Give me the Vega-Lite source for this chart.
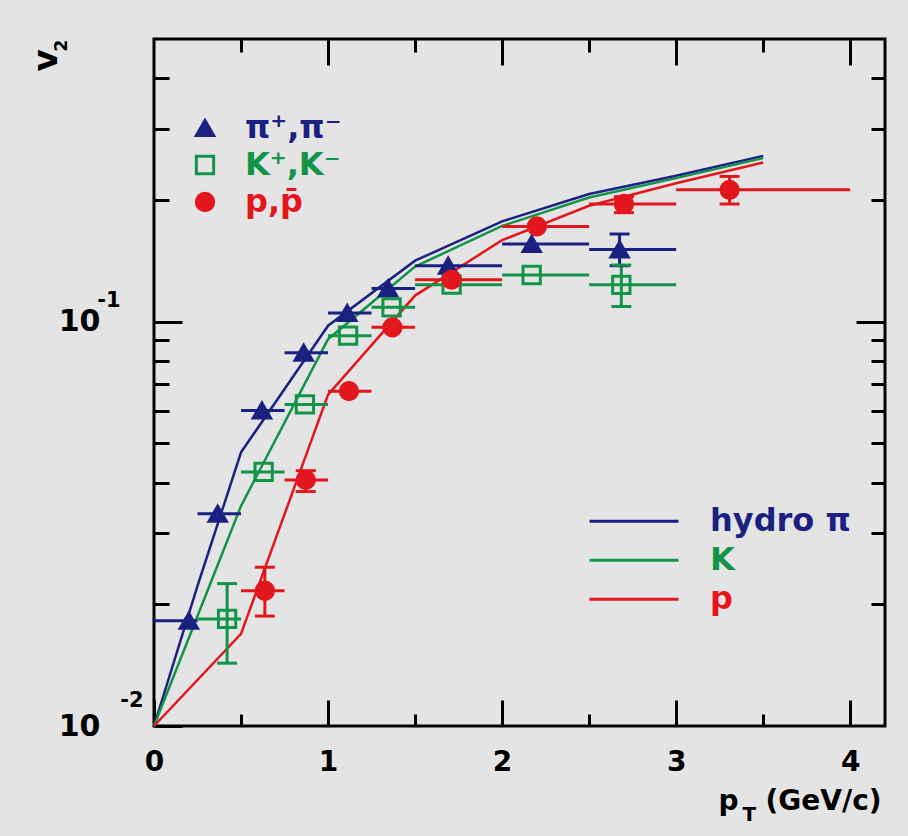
{
  "$schema": "https://vega.github.io/schema/vega-lite/v6.json",
  "width": 731,
  "height": 687,
  "autosize": {"type": "none"},
  "padding": {"left": 154, "top": 39, "right": 23, "bottom": 110},
  "background": "#e4e4e4",
  "datasets": {
    "points": [
      {"species": "π⁺,π⁻", "pt": 0.2, "v2": 0.0182, "xlo": 0, "xhi": 0.25},
      {"species": "π⁺,π⁻", "pt": 0.366, "v2": 0.0335, "xlo": 0.25, "xhi": 0.5},
      {"species": "π⁺,π⁻", "pt": 0.62, "v2": 0.0603, "xlo": 0.5, "xhi": 0.75},
      {"species": "π⁺,π⁻", "pt": 0.86, "v2": 0.0838, "xlo": 0.75, "xhi": 1.0},
      {"species": "π⁺,π⁻", "pt": 1.11, "v2": 0.105, "xlo": 1.0, "xhi": 1.25},
      {"species": "π⁺,π⁻", "pt": 1.345, "v2": 0.1207, "xlo": 1.25, "xhi": 1.5},
      {"species": "π⁺,π⁻", "pt": 1.69, "v2": 0.1375, "xlo": 1.5, "xhi": 2.0},
      {"species": "π⁺,π⁻", "pt": 2.17, "v2": 0.1556, "xlo": 2.0, "xhi": 2.5},
      {"species": "π⁺,π⁻", "pt": 2.675, "v2": 0.1507, "xlo": 2.5, "xhi": 3.0, "lo": 0.1375, "hi": 0.1647},
      {"species": "K⁺,K⁻", "pt": 0.42, "v2": 0.0184, "xlo": 0.25, "xhi": 0.5, "lo": 0.0143, "hi": 0.0225},
      {"species": "K⁺,K⁻", "pt": 0.63, "v2": 0.0425, "xlo": 0.5, "xhi": 0.75},
      {"species": "K⁺,K⁻", "pt": 0.867, "v2": 0.0624, "xlo": 0.75, "xhi": 1.0},
      {"species": "K⁺,K⁻", "pt": 1.115, "v2": 0.0923, "xlo": 1.0, "xhi": 1.25},
      {"species": "K⁺,K⁻", "pt": 1.365, "v2": 0.1085, "xlo": 1.25, "xhi": 1.5},
      {"species": "K⁺,K⁻", "pt": 1.71, "v2": 0.1234, "xlo": 1.5, "xhi": 2.0},
      {"species": "K⁺,K⁻", "pt": 2.17, "v2": 0.1304, "xlo": 2.0, "xhi": 2.5},
      {"species": "K⁺,K⁻", "pt": 2.685, "v2": 0.1233, "xlo": 2.5, "xhi": 3.0, "lo": 0.109, "hi": 0.138},
      {"species": "p,p̄", "pt": 0.637, "v2": 0.0216, "xlo": 0.5, "xhi": 0.75, "lo": 0.0187, "hi": 0.0247},
      {"species": "p,p̄", "pt": 0.872, "v2": 0.0406, "xlo": 0.75, "xhi": 1.0, "lo": 0.038, "hi": 0.0428},
      {"species": "p,p̄", "pt": 1.12, "v2": 0.0673, "xlo": 1.0, "xhi": 1.25},
      {"species": "p,p̄", "pt": 1.37, "v2": 0.0968, "xlo": 1.25, "xhi": 1.5},
      {"species": "p,p̄", "pt": 1.71, "v2": 0.127, "xlo": 1.5, "xhi": 2.0},
      {"species": "p,p̄", "pt": 2.2, "v2": 0.172, "xlo": 2.0, "xhi": 2.5},
      {"species": "p,p̄", "pt": 2.7, "v2": 0.1954, "xlo": 2.5, "xhi": 3.0, "lo": 0.186, "hi": 0.2037},
      {"species": "p,p̄", "pt": 3.307, "v2": 0.2118, "xlo": 3.0, "xhi": 4.0, "lo": 0.1954, "hi": 0.2286}
    ],
    "hydro": [
      {"model": "hydro π", "pt": 0, "v2": 0.01},
      {"model": "hydro π", "pt": 0.25, "v2": 0.0222},
      {"model": "hydro π", "pt": 0.5, "v2": 0.0475},
      {"model": "hydro π", "pt": 1.0, "v2": 0.0977},
      {"model": "hydro π", "pt": 1.5, "v2": 0.1415},
      {"model": "hydro π", "pt": 2.0, "v2": 0.177},
      {"model": "hydro π", "pt": 2.5, "v2": 0.2068},
      {"model": "hydro π", "pt": 3.0, "v2": 0.2296},
      {"model": "hydro π", "pt": 3.5, "v2": 0.257},
      {"model": "K", "pt": 0, "v2": 0.01},
      {"model": "K", "pt": 0.5, "v2": 0.035},
      {"model": "K", "pt": 1.0, "v2": 0.0905},
      {"model": "K", "pt": 1.5, "v2": 0.1368},
      {"model": "K", "pt": 2.0, "v2": 0.1725},
      {"model": "K", "pt": 2.5, "v2": 0.2027},
      {"model": "K", "pt": 3.0, "v2": 0.2264},
      {"model": "K", "pt": 3.5, "v2": 0.2537},
      {"model": "p", "pt": 0, "v2": 0.01},
      {"model": "p", "pt": 0.5, "v2": 0.0169},
      {"model": "p", "pt": 1.0, "v2": 0.066},
      {"model": "p", "pt": 1.5, "v2": 0.116},
      {"model": "p", "pt": 2.0, "v2": 0.159},
      {"model": "p", "pt": 2.5, "v2": 0.1935},
      {"model": "p", "pt": 3.0, "v2": 0.2198},
      {"model": "p", "pt": 3.5, "v2": 0.2475}
    ]
  },
  "layer": [
    {
      "data": {"name": "hydro"},
      "mark": {"type": "line", "strokeWidth": 2.5},
      "encoding": {
        "x": {"field": "pt", "type": "quantitative",
          "scale": {"domain": [0, 4.2], "nice": false, "zero": false},
          "axis": {"orient": "bottom", "values": [0, 1, 2, 3, 4], "tickSize": -26, "labelPadding": 48, "labelFontSize": 28,
            "title": "p", "titleFontSize": 28, "titleX": 564, "titleY": 83, "titleAlign": "left", "titleBaseline": "alphabetic", "titleAngle": 0}},
        "y": {"field": "v2", "type": "quantitative",
          "scale": {"type": "log", "domain": [0.01, 0.5], "nice": false},
          "axis": {"orient": "left", "values": [0.01, 0.1], "tickSize": -28, "labelPadding": 82, "labelFontSize": 30, "labelExpr": "'10'",
            "title": "v", "titleFontSize": 34, "titleX": -108, "titleY": 21, "titleAngle": 270, "titleAlign": "center", "titleBaseline": "middle"}},
        "color": {"field": "model", "type": "nominal",
          "scale": {"domain": ["hydro π", "K", "p"], "range": ["#1a2180", "#119447", "#e3161d"]},
          "legend": {"orient": "none", "legendX": 434, "legendY": 463, "title": null, "symbolType": "stroke", "symbolSize": 7921,
            "symbolStrokeWidth": 3, "clipHeight": 38.7, "labelFont": "DejaVu Sans", "labelFontSize": 32, "labelFontWeight": "bold",
            "labelOffset": 30, "rowPadding": 0, "padding": 0,
            "encode": {"labels": {"update": {"fill": {"scale": "color", "field": "value"}}}}}}
      }
    },
    {
      "data": {"name": "points"},
      "mark": {"type": "rule", "strokeWidth": 3},
      "encoding": {
        "x": {"field": "xlo", "type": "quantitative",
          "scale": {"domain": [0, 4.2], "nice": false, "zero": false},
          "axis": {"orient": "bottom", "values": [0.5, 1.5, 2.5, 3.5], "tickSize": -12, "labels": false,
            "title": "(GeV/c)", "titleFontSize": 28, "titleX": 611, "titleY": 83, "titleAlign": "left", "titleBaseline": "alphabetic", "titleAngle": 0}},
        "x2": {"field": "xhi"},
        "y": {"field": "v2", "type": "quantitative",
          "scale": {"type": "log", "domain": [0.01, 0.5], "nice": false},
          "axis": {"orient": "left", "values": [0.02, 0.03, 0.04, 0.05, 0.06, 0.07, 0.08, 0.09, 0.2, 0.3, 0.4], "tickSize": -15, "labels": false,
            "title": "2", "titleFontSize": 17, "titleX": -93, "titleY": 6, "titleAngle": 270, "titleAlign": "center", "titleBaseline": "middle"}},
        "stroke": {"condition": [{"test": "datum.species == 'π⁺,π⁻'", "value": "#1a2180"}, {"test": "datum.species == 'K⁺,K⁻'", "value": "#119447"}], "value": "#e3161d"}
      }
    },
    {
      "data": {"name": "points"},
      "transform": [{"filter": "isValid(datum.lo)"}],
      "mark": {"type": "rule", "strokeWidth": 3},
      "encoding": {
        "x": {"field": "pt", "type": "quantitative",
          "scale": {"domain": [0, 4.2], "nice": false, "zero": false},
          "axis": {"orient": "top", "values": [1, 2, 3, 4], "tickSize": -26, "labels": false, "title": null}},
        "y": {"field": "lo", "type": "quantitative",
          "scale": {"type": "log", "domain": [0.01, 0.5], "nice": false},
          "axis": {"orient": "right", "values": [0.1], "tickSize": -29, "labels": false, "title": null}},
        "y2": {"field": "hi"},
        "stroke": {"condition": [{"test": "datum.species == 'π⁺,π⁻'", "value": "#1a2180"}, {"test": "datum.species == 'K⁺,K⁻'", "value": "#119447"}], "value": "#e3161d"}
      }
    },
    {
      "data": {"name": "points"},
      "transform": [{"filter": "isValid(datum.lo)"}],
      "mark": {"type": "point", "shape": "M-1,0H1", "size": 400, "strokeWidth": 3, "filled": false, "opacity": 1},
      "encoding": {
        "x": {"field": "pt", "type": "quantitative",
          "scale": {"domain": [0, 4.2], "nice": false, "zero": false},
          "axis": {"orient": "top", "values": [0.5, 1.5, 2.5, 3.5], "tickSize": -13, "labels": false, "title": null}},
        "y": {"field": "lo", "type": "quantitative",
          "scale": {"type": "log", "domain": [0.01, 0.5], "nice": false},
          "axis": {"orient": "right", "values": [0.02, 0.03, 0.04, 0.05, 0.06, 0.07, 0.08, 0.09, 0.2, 0.3, 0.4], "tickSize": -14, "labels": false, "title": null}},
        "stroke": {"condition": [{"test": "datum.species == 'π⁺,π⁻'", "value": "#1a2180"}, {"test": "datum.species == 'K⁺,K⁻'", "value": "#119447"}], "value": "#e3161d"}
      }
    },
    {
      "data": {"name": "points"},
      "transform": [{"filter": "isValid(datum.hi)"}],
      "mark": {"type": "point", "shape": "M-1,0H1", "size": 400, "strokeWidth": 3, "filled": false, "opacity": 1},
      "encoding": {
        "x": {"field": "pt", "type": "quantitative",
          "scale": {"domain": [0, 4.2], "nice": false, "zero": false},
          "axis": {"orient": "bottom", "values": [4], "ticks": false, "labels": false,
            "title": "T", "titleFontSize": 20, "titleX": 588, "titleY": 94, "titleAlign": "left", "titleBaseline": "alphabetic", "titleAngle": 0}},
        "y": {"field": "hi", "type": "quantitative",
          "scale": {"type": "log", "domain": [0.01, 0.5], "nice": false},
          "axis": {"orient": "left", "values": [0.01], "ticks": false, "labelPadding": 11, "labelFontSize": 21, "labelOffset": -26, "labelExpr": "'-2'", "title": null}},
        "stroke": {"condition": [{"test": "datum.species == 'π⁺,π⁻'", "value": "#1a2180"}, {"test": "datum.species == 'K⁺,K⁻'", "value": "#119447"}], "value": "#e3161d"}
      }
    },
    {
      "data": {"name": "points"},
      "mark": {"type": "point", "size": 300, "strokeWidth": 3, "opacity": 1},
      "encoding": {
        "x": {"field": "pt", "type": "quantitative",
          "scale": {"domain": [0, 4.2], "nice": false, "zero": false}, "axis": null},
        "y": {"field": "v2", "type": "quantitative",
          "scale": {"type": "log", "domain": [0.01, 0.5], "nice": false},
          "axis": {"orient": "left", "values": [0.1], "ticks": false, "labelPadding": 34, "labelFontSize": 21, "labelOffset": -21, "labelExpr": "'-1'", "title": null}},
        "shape": {"field": "species", "type": "nominal",
          "scale": {"domain": ["π⁺,π⁻", "K⁺,K⁻", "p,p̄"], "range": ["triangle-up", "square", "circle"]},
          "legend": {"orient": "none", "legendX": 35, "legendY": 73, "title": null, "labelFont": "DejaVu Sans", "labelFontSize": 32, "labelFontWeight": "bold",
            "labelColor": {"expr": "scale('stroke', datum.value)"},
            "symbolSize": 300, "symbolStrokeWidth": 3, "labelOffset": 24, "rowPadding": 5, "padding": 0,
            "encode": {"labels": {"update": {"fill": {"signal": "scale('stroke', datum.value)"}}}}}},
        "stroke": {"field": "species", "type": "nominal",
          "scale": {"domain": ["π⁺,π⁻", "K⁺,K⁻", "p,p̄"], "range": ["#1a2180", "#119447", "#e3161d"]},
          "legend": {"orient": "none", "legendX": 35, "legendY": 73, "title": null, "labelFont": "DejaVu Sans", "labelFontSize": 32, "labelFontWeight": "bold",
            "labelColor": {"expr": "scale('stroke', datum.value)"},
            "symbolSize": 300, "symbolStrokeWidth": 3, "labelOffset": 24, "rowPadding": 5, "padding": 0,
            "encode": {"labels": {"update": {"fill": {"signal": "scale('stroke', datum.value)"}}}}}},
        "fill": {"field": "species", "type": "nominal",
          "scale": {"domain": ["π⁺,π⁻", "K⁺,K⁻", "p,p̄"], "range": ["#1a2180", "transparent", "#e3161d"]},
          "legend": {"orient": "none", "legendX": 35, "legendY": 73, "title": null, "labelFont": "DejaVu Sans", "labelFontSize": 32, "labelFontWeight": "bold",
            "labelColor": {"expr": "scale('stroke', datum.value)"},
            "symbolSize": 300, "symbolStrokeWidth": 3, "labelOffset": 24, "rowPadding": 5, "padding": 0,
            "encode": {"labels": {"update": {"fill": {"signal": "scale('stroke', datum.value)"}}}}}}
      }
    }
  ],
  "resolve": {"axis": {"x": "independent", "y": "independent"}},
  "config": {
    "view": {"stroke": "black", "strokeWidth": 3},
    "axis": {"domain": false, "grid": false, "tickColor": "black", "tickWidth": 3,
      "labelFont": "DejaVu Sans", "labelFontWeight": "bold", "labelColor": "black", "labelFlush": false, "labelOverlap": false,
      "titleFont": "DejaVu Sans", "titleFontWeight": "bold", "titleColor": "black"}
  }
}
